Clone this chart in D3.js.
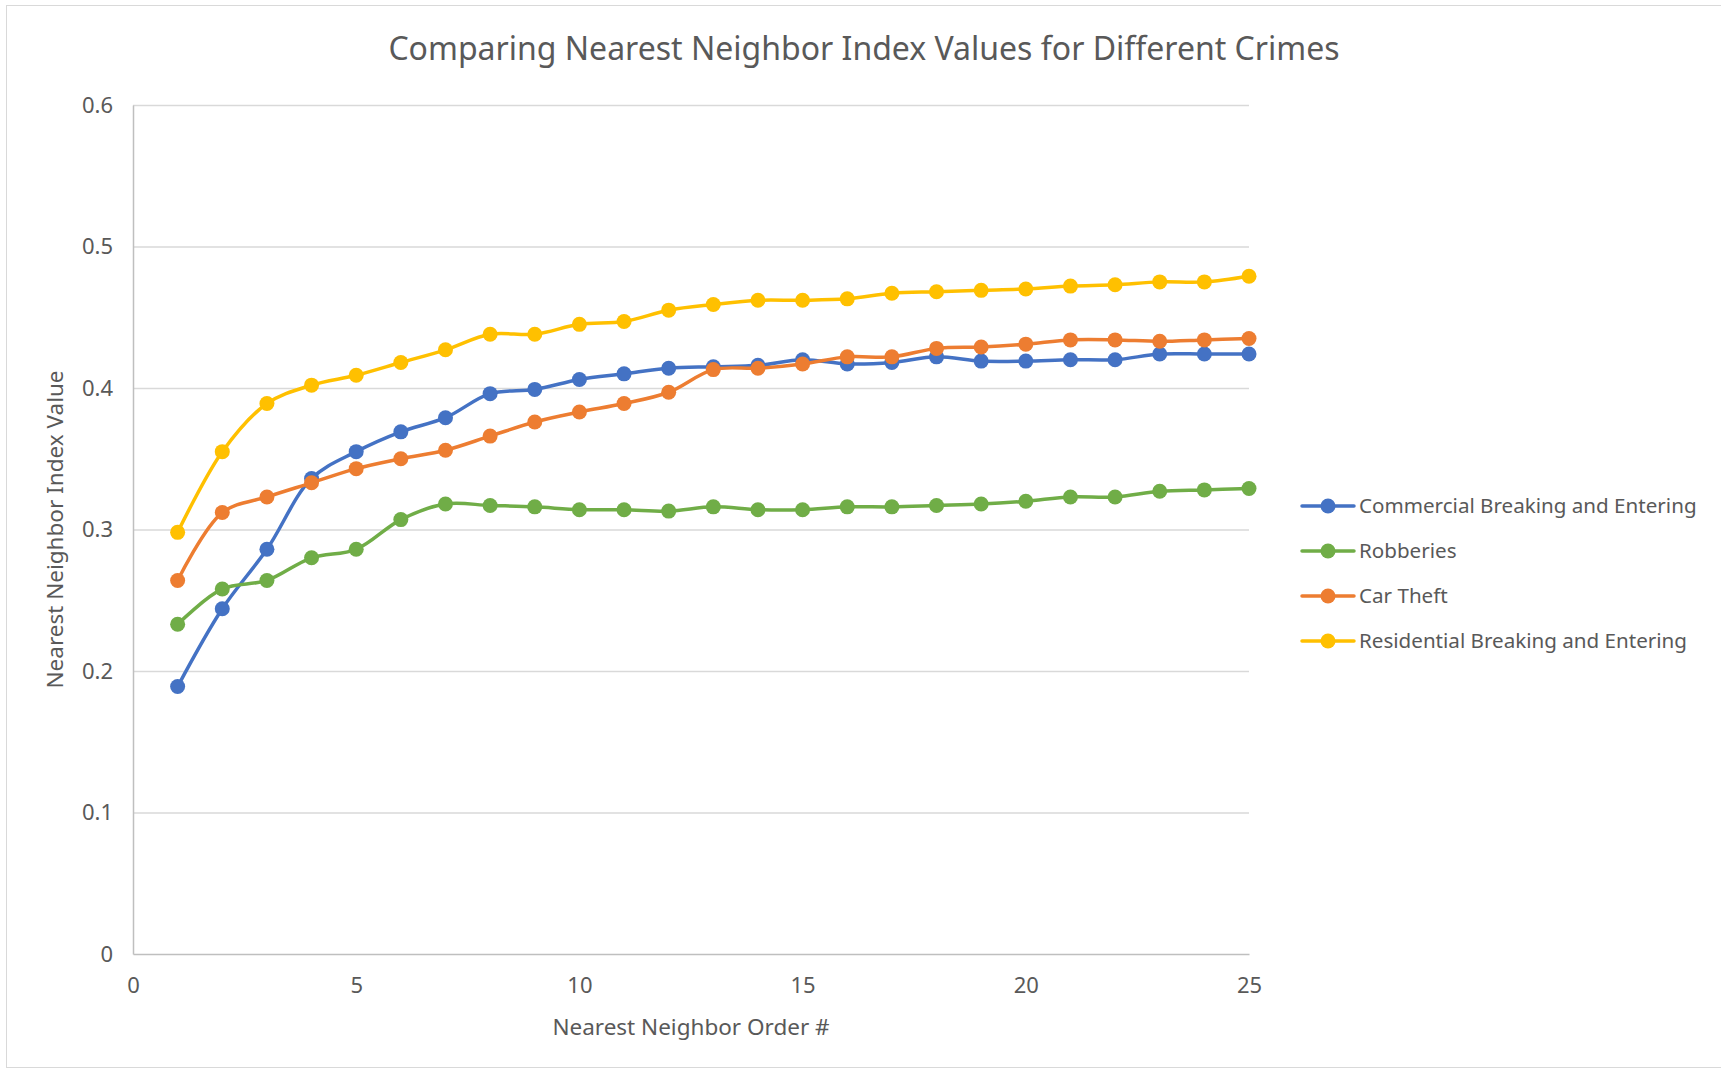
<!DOCTYPE html>
<html>
<head>
<meta charset="utf-8">
<script src="https://cdn.jsdelivr.net/npm/d3@7"></script>
<style>
  body { margin: 0; background: #fff; }
  text { font-family: "Noto Sans", "Open Sans", sans-serif; fill: #595959; }
</style>
</head>
<body>
<div id="chart-area"></div>
<script>
// data
var order = d3.range(1, 26)
var seriesNames = ["Commercial Breaking and Entering", "Robberies", "Car Theft", "Residential Breaking and Entering"]
var seriesColors = ["#4472C4", "#70AD47", "#ED7D31", "#FFC000"]

var commercial = [0.189, 0.244, 0.286, 0.336, 0.355, 0.369, 0.379, 0.396, 0.399, 0.406, 0.410, 0.414,
  0.415, 0.416, 0.420, 0.417, 0.418, 0.422, 0.419, 0.419, 0.420, 0.420, 0.424, 0.424, 0.424]
var robberies = [0.233, 0.258, 0.264, 0.280, 0.286, 0.307, 0.318, 0.317, 0.316, 0.314, 0.314, 0.313,
  0.316, 0.314, 0.314, 0.316, 0.316, 0.317, 0.318, 0.320, 0.323, 0.323, 0.327, 0.328, 0.329]
var carTheft = [0.264, 0.312, 0.323, 0.333, 0.343, 0.350, 0.356, 0.366, 0.376, 0.383, 0.389, 0.397,
  0.413, 0.414, 0.417, 0.422, 0.422, 0.428, 0.429, 0.431, 0.434, 0.434, 0.433, 0.434, 0.435]
var residential = [0.298, 0.355, 0.389, 0.402, 0.409, 0.418, 0.427, 0.438, 0.438, 0.445, 0.447, 0.455,
  0.459, 0.462, 0.462, 0.463, 0.467, 0.468, 0.469, 0.470, 0.472, 0.473, 0.475, 0.475, 0.479]

var xTicks = [0, 5, 10, 15, 20, 25]
var yTicks = [0, 0.1, 0.2, 0.3, 0.4, 0.5, 0.6]

var allSeries = [commercial, robberies, carTheft, residential]

var W = 1721, H = 1070
var margin = { top: 105, right: 472, bottom: 116, left: 133 }
var width = W - margin.left - margin.right
var height = H - margin.top - margin.bottom

var svg = d3.select("#chart-area")
  .append("svg")
  .attr("width", W)
  .attr("height", H)

// outer chart border
svg.append("rect")
  .attr("x", 6.5).attr("y", 5.5)
  .attr("width", W).attr("height", 1062)
  .attr("fill", "none")
  .attr("stroke", "#d9d9d9")

svg.append("text")
  .attr("x", 864)
  .attr("y", 60)
  .attr("text-anchor", "middle")
  .attr("font-size", "32px")
  .text("Comparing Nearest Neighbor Index Values for Different Crimes")

var g = svg.append("g")
  .attr("transform", `translate(${margin.left}, ${margin.top})`)

var x = d3.scaleLinear().domain([0, 25]).range([0, width])
var y = d3.scaleLinear().domain([0, 0.6]).range([height, 0])

// gridlines
g.append("g")
  .selectAll("line")
  .data(yTicks.filter(d => d > 0))
  .enter().append("line")
  .attr("x1", 0).attr("x2", width)
  .attr("y1", d => y(d) + 0.5).attr("y2", d => y(d) + 0.5)
  .attr("stroke", "#d9d9d9")
  .attr("stroke-width", 1.5)

var leftAxis = d3.axisLeft(y).tickValues(yTicks).tickSize(0).tickPadding(20)
  .tickFormat(d => d === 0 ? "0" : d3.format(".1f")(d))
var bottomAxis = d3.axisBottom(x).tickValues(xTicks).tickSize(0).tickPadding(23)

var yAxisGroup = g.append("g").attr("class", "left axis").call(leftAxis)
var xAxisGroup = g.append("g").attr("class", "bottom axis")
  .attr("transform", "translate(0, " + height + ")")
  .call(bottomAxis)

g.selectAll(".axis path").attr("stroke", "#bfbfbf").attr("stroke-width", 1.5)
g.selectAll(".axis text").attr("font-size", "22px").attr("fill", "#595959")
  .style("font-family", "'Noto Sans', sans-serif")

g.append("text")
  .attr("x", -(height / 2))
  .attr("y", -70)
  .attr("font-size", "22.5px")
  .attr("text-anchor", "middle")
  .attr("transform", "rotate(-90)")
  .text("Nearest Neighbor Index Value")

g.append("text")
  .attr("x", width / 2)
  .attr("y", height + 81)
  .attr("font-size", "22.5px")
  .attr("text-anchor", "middle")
  .text("Nearest Neighbor Order #")

var line = d3.line()
  .x((d, i) => x(order[i]))
  .y(d => y(d))
  .curve(d3.curveCatmullRom.alpha(0.5))

allSeries.forEach((vals, s) => {
  var sg = g.append("g")
  sg.append("path")
    .datum(vals)
    .attr("d", line)
    .attr("fill", "none")
    .attr("stroke", seriesColors[s])
    .attr("stroke-width", 3.5)
    .attr("stroke-linecap", "round")
  sg.selectAll("circle")
    .data(vals)
    .enter().append("circle")
    .attr("cx", (d, i) => x(order[i]))
    .attr("cy", d => y(d))
    .attr("r", 7.5)
    .attr("fill", seriesColors[s])
})

// legend
var legend = svg.append("g").attr("transform", "translate(1302, 506)")
seriesNames.forEach((name, i) => {
  var row = legend.append("g").attr("transform", "translate(0," + (i * 45) + ")")
  row.append("line")
    .attr("x1", 0).attr("x2", 52)
    .attr("stroke", seriesColors[i])
    .attr("stroke-width", 3.5)
    .attr("stroke-linecap", "round")
  row.append("circle").attr("cx", 26).attr("r", 7.5).attr("fill", seriesColors[i])
  row.append("text")
    .attr("x", 57)
    .attr("dy", "0.35em")
    .attr("font-size", "20.6px")
    .text(name)
})
</script>
</body>
</html>
